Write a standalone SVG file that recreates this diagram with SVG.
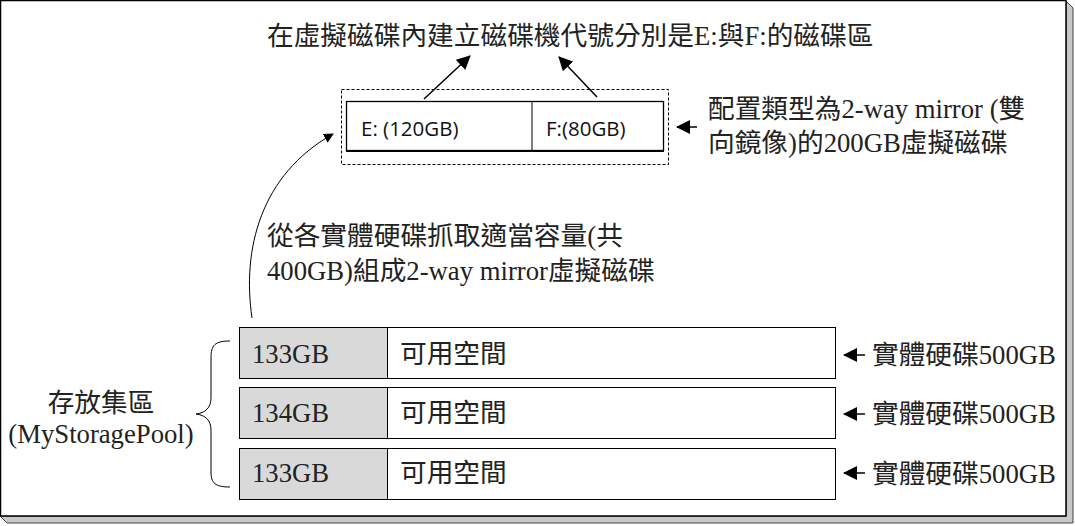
<svg xmlns="http://www.w3.org/2000/svg" width="1075" height="526" viewBox="0 0 1075 526">
<style>
.t{font-family:"Liberation Serif","Noto Sans CJK TC",serif;font-size:26.7px;fill:#222}
.s{font-family:"Open Sans","Liberation Sans",sans-serif;font-size:20.5px;fill:#111}
.ln{stroke:#000;stroke-width:1.5;fill:none}
</style>
<defs>
<marker id="ah" markerWidth="10" markerHeight="10" refX="9" refY="5" orient="auto" markerUnits="userSpaceOnUse">
<path d="M0,0 L10,5 L0,10 z" fill="#000"/>
</marker>
<marker id="ah2" markerWidth="14" markerHeight="14" refX="13" refY="7" orient="auto" markerUnits="userSpaceOnUse">
<path d="M0,0 L14,7 L0,14 z" fill="#000"/>
</marker>
</defs>
<rect width="1075" height="526" fill="#fff"/>
<g id="frame">
<polygon points="1066,1 1073,8 1073,523 7,523 0,516 1066,516" fill="#c8c8c8" stroke="#444" stroke-width="1"/>
<rect x="0.5" y="0.5" width="1065.5" height="515.5" fill="#fff" stroke="#000" stroke-width="1.5"/>
</g>
<g id="title"><text class="t" x="267" y="45">在虛擬磁碟內建立磁碟機代號分別是E:與F:的磁碟區</text></g>
<g id="vdisk">
<rect x="341.5" y="89.5" width="327" height="75" fill="none" stroke="#000" stroke-width="1" stroke-dasharray="3,2"/>
<rect x="346.5" y="101.5" width="317" height="49" fill="#fff" stroke="#000" stroke-width="1.3"/>
<line x1="346" y1="151" x2="664" y2="151" stroke="#000" stroke-width="2"/>
<line x1="532" y1="101" x2="532" y2="151" stroke="#000" stroke-width="1"/>
<text class="s" x="361" y="136">E: (120GB)</text>
<text class="s" x="546" y="136">F:(80GB)</text>
</g>
<g id="vdisk-label">
<text class="t" x="708" y="118">配置類型為2-way mirror (雙</text>
<text class="t" x="708" y="152">向鏡像)的200GB虛擬磁碟</text>
</g>
<g id="pull-label">
<text class="t" x="267" y="245">從各實體硬碟抓取適當容量(共</text>
<text class="t" x="267" y="280">400GB)組成2-way mirror虛擬磁碟</text>
</g>
<g id="disk1">
<rect x="239.5" y="327.5" width="596" height="51" fill="#fff" stroke="#000" stroke-width="1"/>
<rect x="239.5" y="327.5" width="148" height="51" fill="#d9d9d9" stroke="#000" stroke-width="1"/>
<text class="t" x="252" y="363">133GB</text>
<text class="t" x="400" y="363">可用空間</text>
<text class="t" x="872" y="364">實體硬碟500GB</text>
</g>
<g id="disk2">
<rect x="239.5" y="387.5" width="596" height="51" fill="#fff" stroke="#000" stroke-width="1"/>
<rect x="239.5" y="387.5" width="148" height="51" fill="#d9d9d9" stroke="#000" stroke-width="1"/>
<text class="t" x="252" y="422">134GB</text>
<text class="t" x="400" y="422">可用空間</text>
<text class="t" x="872" y="423">實體硬碟500GB</text>
</g>
<g id="disk3">
<rect x="239.5" y="448.5" width="596" height="51" fill="#fff" stroke="#000" stroke-width="1"/>
<rect x="239.5" y="448.5" width="148" height="51" fill="#d9d9d9" stroke="#000" stroke-width="1"/>
<text class="t" x="252" y="482">133GB</text>
<text class="t" x="400" y="482">可用空間</text>
<text class="t" x="872" y="483">實體硬碟500GB</text>
</g>
<g id="pool">
<text class="t" x="101" y="412" text-anchor="middle">存放集區</text>
<text class="t" x="101" y="443" text-anchor="middle">(MyStoragePool)</text>
</g>
<g id="connectors">
<path d="M230,341 C215,341 211,345 211,358 L211,398 C211,408 205,413 196,414 C205,415 211,420 211,430 L211,472 C211,483 215,487 230,487" fill="none" stroke="#000" stroke-width="1"/>
<path d="M252,318 C242,250 260,175 333,134" fill="none" stroke="#000" stroke-width="1" marker-end="url(#ah)"/>
<line x1="424" y1="99" x2="470" y2="56" class="ln" marker-end="url(#ah2)"/>
<line x1="597" y1="97" x2="559" y2="57" class="ln" marker-end="url(#ah2)"/>
<line x1="697" y1="127" x2="677" y2="127" class="ln" marker-end="url(#ah2)"/>
<line x1="865" y1="355" x2="844" y2="355" class="ln" marker-end="url(#ah2)"/>
<line x1="865" y1="414" x2="844" y2="414" class="ln" marker-end="url(#ah2)"/>
<line x1="865" y1="473" x2="844" y2="473" class="ln" marker-end="url(#ah2)"/>
</g>
</svg>
